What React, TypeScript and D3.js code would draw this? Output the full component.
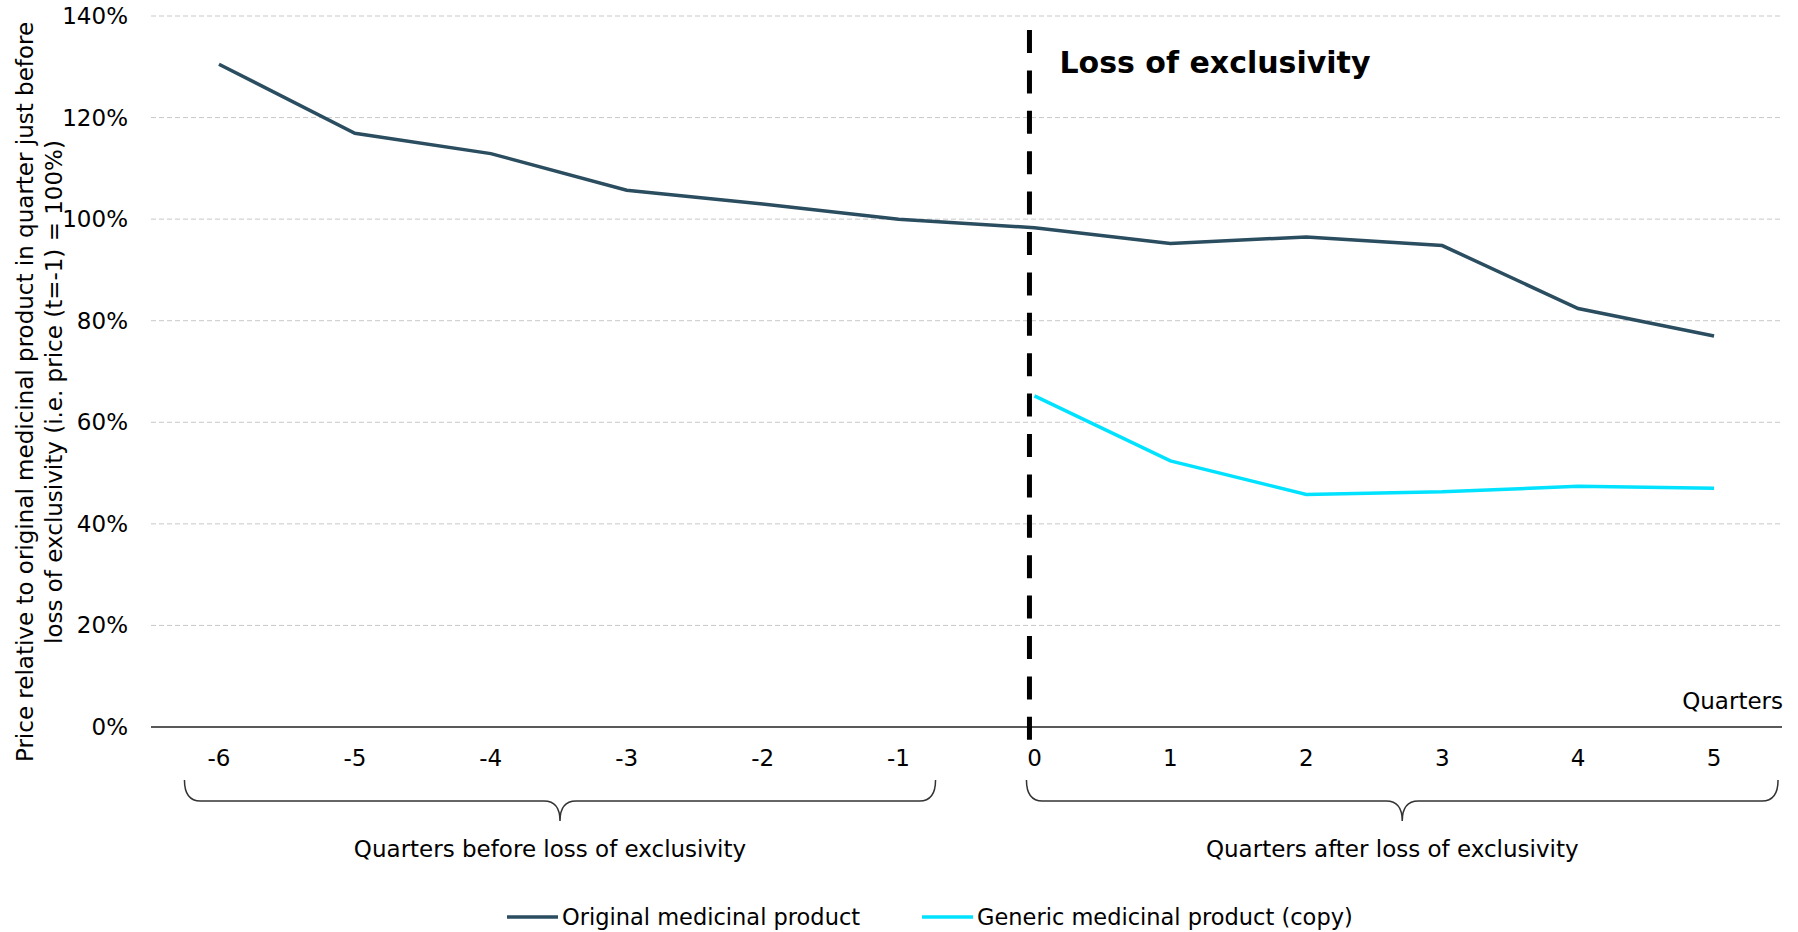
import React from "react";
import * as d3 from "d3";

const quarters = [-6, -5, -4, -3, -2, -1, 0, 1, 2, 3, 4, 5];
const originalValues = [130.5, 116.9, 112.9, 105.7, 103.0, 100.0, 98.3, 95.2, 96.5, 94.8, 82.4, 77.0];
const genericQuarters = [0, 1, 2, 3, 4, 5];
const genericValues = [65.2, 52.4, 45.8, 46.3, 47.4, 47.0];
const yTicks = [0, 20, 40, 60, 80, 100, 120, 140];
const seriesNames = ["Original medicinal product", "Generic medicinal product (copy)"];
const groupLabels = ["Quarters before loss of exclusivity", "Quarters after loss of exclusivity"];
const groupRanges: [number, number][] = [[-6, -1], [0, 5]];
const yTitleLines = [
  "Price relative to original medicinal product in quarter just before",
  "loss of exclusivity (i.e. price (t=-1) = 100%)",
];

const W = 1798;
const H = 932;
const FONT = "'DejaVu Sans', Verdana, sans-serif";
const COLORS = ["#2b4d60", "#00e2ff"];

export default function App() {
  const left = 151;
  const right = 1782;
  const top = 16;
  const bottom = 727;

  const x = d3.scalePoint<number>().domain(quarters).range([left, right]).padding(0.5);
  const y = d3.scaleLinear().domain([0, 140]).range([bottom, top]);

  const lineGen = d3
    .line<[number, number]>()
    .x((d) => x(d[0]) as number)
    .y((d) => y(d[1]));

  const origPath = lineGen(quarters.map((q, i) => [q, originalValues[i]]));
  const genPath = lineGen(genericQuarters.map((q, i) => [q, genericValues[i]]));

  const x0 = x(0) as number;

  const brace = (a: number, b: number) => {
    const topY = 780;
    const midY = 801;
    const tipY = 821;
    const r = 16;
    const cx = (a + b) / 2;
    return `M${a},${topY} Q${a},${midY} ${a + r},${midY} L${cx - r},${midY} Q${cx},${midY} ${cx},${tipY} Q${cx},${midY} ${cx + r},${midY} L${b - r},${midY} Q${b},${midY} ${b},${topY}`;
  };

  const braceExtents: [number, number][] = [
    [(x(groupRanges[0][0]) as number) - 34.5, (x(groupRanges[0][1]) as number) + 37],
    [(x(groupRanges[1][0]) as number) - 8, (x(groupRanges[1][1]) as number) + 64],
  ];

  const yTitleCenter = 392;

  return (
    <div style={{ position: "absolute", left: 0, top: 0 }}>
      <svg width={W} height={H} style={{ display: "block", background: "#fff" }} fontFamily={FONT}>
        {/* gridlines */}
        {yTicks
          .filter((t) => t > 0)
          .map((t) => (
            <line
              key={t}
              x1={left}
              x2={right}
              y1={y(t)}
              y2={y(t)}
              stroke="#c8c8c8"
              strokeWidth={1}
              strokeDasharray="5,3"
            />
          ))}
        {/* y tick labels */}
        {yTicks.map((t) => (
          <text
            key={t}
            x={128}
            y={y(t)}
            dy="0.35em"
            textAnchor="end"
            fontSize={23}
            fill="#000"
          >
            {t}%
          </text>
        ))}
        {/* x axis */}
        <line x1={left} x2={right} y1={y(0)} y2={y(0)} stroke="#222" strokeWidth={1.5} />
        {quarters.map((q) => (
          <text key={q} x={x(q)} y={766} textAnchor="middle" fontSize={23} fill="#000">
            {q}
          </text>
        ))}
        <text x={right + 1} y={709} textAnchor="end" fontSize={23} fill="#000">
          Quarters
        </text>
        {/* y title */}
        <g transform={`translate(0,${yTitleCenter}) rotate(-90)`}>
          {yTitleLines.map((l, i) => (
            <text key={i} x={0} y={33 + i * 29} textAnchor="middle" fontSize={23} fill="#000">
              {l}
            </text>
          ))}
        </g>
        {/* lines */}
        <path d={origPath || ""} fill="none" stroke={COLORS[0]} strokeWidth={3.5} />
        <path d={genPath || ""} fill="none" stroke={COLORS[1]} strokeWidth={3.5} />
        {/* loss of exclusivity marker */}
        <line
          x1={x0 - 5}
          x2={x0 - 5}
          y1={30}
          y2={740}
          stroke="#000"
          strokeWidth={5}
          strokeDasharray="23,17.4"
        />
        <text x={x0 + 25} y={73} fontSize={30} fontWeight="bold" fill="#000">
          Loss of exclusivity
        </text>
        {/* braces */}
        {braceExtents.map(([a, b], i) => (
          <g key={i}>
            <path d={brace(a, b)} fill="none" stroke="#333" strokeWidth={1.5} />
            <text x={(a + b) / 2 - 10} y={857} textAnchor="middle" fontSize={23} fill="#000">
              {groupLabels[i]}
            </text>
          </g>
        ))}
        {/* legend */}
        {seriesNames.map((name, i) => {
          const lx = [507, 922][i];
          return (
            <g key={name}>
              <line x1={lx} x2={lx + 51} y1={917} y2={917} stroke={COLORS[i]} strokeWidth={3.5} />
              <text x={lx + 55} y={925} fontSize={22.5} fill="#000">
                {name}
              </text>
            </g>
          );
        })}
      </svg>
    </div>
  );
}
